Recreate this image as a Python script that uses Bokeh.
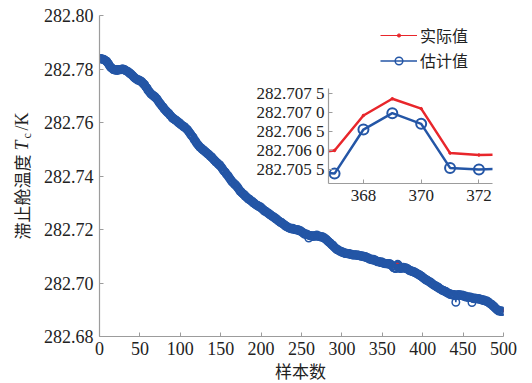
import math
from jinja2 import Template
from bokeh.plotting import figure
from bokeh.models import (Range1d, FixedTicker, PrintfTickFormatter, CustomJSTickFormatter,
                          Legend, LegendItem, Label, ColumnDataSource)
from bokeh.embed import file_html
from bokeh.resources import INLINE

# ---------------- data ----------------
sample = list(range(1, 501))

actual = [
282.7842, 282.7843, 282.7841, 282.7842, 282.7840, 282.7838, 282.7837, 282.7834, 282.7831, 282.7828,
282.7824, 282.7819, 282.7815, 282.7811, 282.7808, 282.7805, 282.7803, 282.7801, 282.7800, 282.7800,
282.7801, 282.7799, 282.7802, 282.7803, 282.7802, 282.7800, 282.7803, 282.7804, 282.7802, 282.7803,
282.7801, 282.7799, 282.7798, 282.7797, 282.7795, 282.7792, 282.7789, 282.7787, 282.7784, 282.7782,
282.7779, 282.7776, 282.7773, 282.7771, 282.7768, 282.7766, 282.7764, 282.7763, 282.7761, 282.7760,
282.7758, 282.7757, 282.7755, 282.7751, 282.7748, 282.7744, 282.7739, 282.7735, 282.7730, 282.7725,
282.7721, 282.7718, 282.7715, 282.7711, 282.7708, 282.7706, 282.7703, 282.7701, 282.7698, 282.7695,
282.7692, 282.7688, 282.7684, 282.7680, 282.7675, 282.7671, 282.7667, 282.7663, 282.7659, 282.7655,
282.7652, 282.7649, 282.7646, 282.7643, 282.7640, 282.7637, 282.7633, 282.7629, 282.7625, 282.7622,
282.7620, 282.7618, 282.7616, 282.7614, 282.7612, 282.7609, 282.7606, 282.7603, 282.7601, 282.7598,
282.7596, 282.7594, 282.7592, 282.7590, 282.7588, 282.7585, 282.7582, 282.7579, 282.7575, 282.7572,
282.7568, 282.7564, 282.7560, 282.7556, 282.7552, 282.7547, 282.7542, 282.7537, 282.7532, 282.7528,
282.7524, 282.7521, 282.7517, 282.7514, 282.7510, 282.7508, 282.7505, 282.7502, 282.7499, 282.7497,
282.7495, 282.7493, 282.7490, 282.7488, 282.7485, 282.7482, 282.7479, 282.7476, 282.7473, 282.7470,
282.7467, 282.7464, 282.7461, 282.7458, 282.7455, 282.7452, 282.7449, 282.7446, 282.7443, 282.7440,
282.7436, 282.7432, 282.7428, 282.7424, 282.7420, 282.7416, 282.7412, 282.7408, 282.7404, 282.7400,
282.7396, 282.7392, 282.7388, 282.7384, 282.7380, 282.7377, 282.7374, 282.7371, 282.7368, 282.7365,
282.7361, 282.7357, 282.7353, 282.7349, 282.7345, 282.7342, 282.7339, 282.7336, 282.7333, 282.7330,
282.7328, 282.7325, 282.7323, 282.7320, 282.7318, 282.7315, 282.7313, 282.7310, 282.7308, 282.7305,
282.7303, 282.7301, 282.7299, 282.7297, 282.7295, 282.7293, 282.7291, 282.7289, 282.7287, 282.7285,
282.7283, 282.7280, 282.7278, 282.7275, 282.7273, 282.7271, 282.7269, 282.7266, 282.7264, 282.7262,
282.7260, 282.7258, 282.7256, 282.7254, 282.7252, 282.7250, 282.7247, 282.7245, 282.7242, 282.7240,
282.7238, 282.7236, 282.7234, 282.7232, 282.7230, 282.7228, 282.7225, 282.7223, 282.7220, 282.7218,
282.7216, 282.7215, 282.7213, 282.7212, 282.7210, 282.7209, 282.7208, 282.7207, 282.7207, 282.7206,
282.7205, 282.7205, 282.7204, 282.7204, 282.7203, 282.7202, 282.7200, 282.7199, 282.7197, 282.7196,
282.7194, 282.7192, 282.7190, 282.7188, 282.7187, 282.7186, 282.7185, 282.7184, 282.7183, 282.7182,
282.7181, 282.7181, 282.7180, 282.7180, 282.7180, 282.7181, 282.7180, 282.7180, 282.7181, 282.7180,
282.7180, 282.7179, 282.7178, 282.7178, 282.7177, 282.7176, 282.7174, 282.7172, 282.7170, 282.7168,
282.7166, 282.7163, 282.7160, 282.7158, 282.7155, 282.7152, 282.7149, 282.7146, 282.7143, 282.7140,
282.7137, 282.7135, 282.7132, 282.7130, 282.7128, 282.7126, 282.7124, 282.7123, 282.7121, 282.7120,
282.7119, 282.7118, 282.7117, 282.7116, 282.7115, 282.7114, 282.7114, 282.7113, 282.7112, 282.7112,
282.7111, 282.7111, 282.7110, 282.7110, 282.7110, 282.7109, 282.7109, 282.7108, 282.7108, 282.7108,
282.7107, 282.7107, 282.7106, 282.7106, 282.7105, 282.7104, 282.7103, 282.7102, 282.7101, 282.7100,
282.7099, 282.7098, 282.7097, 282.7095, 282.7094, 282.7093, 282.7092, 282.7091, 282.7091, 282.7090,
282.7089, 282.7088, 282.7086, 282.7085, 282.7084, 282.7083, 282.7082, 282.7081, 282.7081, 282.7080,
282.7079, 282.7079, 282.7078, 282.7078, 282.7077, 282.7076, 282.7076, 282.7075, 282.7075, 282.7074,
282.7072, 282.7069, 282.7066, 282.7063, 282.70610, 282.70592, 282.70600, 282.70692, 282.70736, 282.70710,
282.70593, 282.70588, 282.70590, 282.7060, 282.7062, 282.7062, 282.7061, 282.7060, 282.7059, 282.7058,
282.7057, 282.7055, 282.7054, 282.7052, 282.7050, 282.7049, 282.7048, 282.7046, 282.7045, 282.7044,
282.7042, 282.7041, 282.7040, 282.7038, 282.7036, 282.7034, 282.7032, 282.7030, 282.7027, 282.7025,
282.7023, 282.7021, 282.7019, 282.7017, 282.7015, 282.7013, 282.7011, 282.7009, 282.7007, 282.7005,
282.7003, 282.7001, 282.6999, 282.6997, 282.6995, 282.6993, 282.6991, 282.6989, 282.6987, 282.6985,
282.6983, 282.6982, 282.6980, 282.6979, 282.6977, 282.6975, 282.6974, 282.6972, 282.6970, 282.6968,
282.6967, 282.6966, 282.6965, 282.6963, 282.6962, 282.6961, 282.6960, 282.6959, 282.6959, 282.6958,
282.6958, 282.6959, 282.6960, 282.6961, 282.6960, 282.6959, 282.6958, 282.6957, 282.6957, 282.6956,
282.6955, 282.6954, 282.6955, 282.6953, 282.6952, 282.6952, 282.6951, 282.6951, 282.6950, 282.6950,
282.6949, 282.6949, 282.6948, 282.6947, 282.6947, 282.6946, 282.6946, 282.6945, 282.6944, 282.6944,
282.6943, 282.6943, 282.6942, 282.6941, 282.6940, 282.6939, 282.6938, 282.6937, 282.6936, 282.6935,
282.6933, 282.6931, 282.6929, 282.6927, 282.6925, 282.6922, 282.6919, 282.6916, 282.6913, 282.6910,
282.6907, 282.6905, 282.6903, 282.6901, 282.6900, 282.6899, 282.6898, 282.6898, 282.6897, 282.6898,
]

estimate = [
282.7839, 282.7838, 282.7837, 282.7836, 282.7836, 282.7835, 282.7832, 282.7830, 282.7829, 282.7823,
282.7821, 282.7814, 282.7811, 282.7805, 282.7804, 282.7802, 282.7798, 282.7797, 282.7798, 282.7795,
282.7798, 282.7794, 282.7798, 282.7797, 282.7798, 282.7797, 282.7798, 282.7800, 282.7800, 282.7798,
282.7798, 282.7794, 282.7794, 282.7791, 282.7791, 282.7789, 282.7784, 282.7783, 282.7782, 282.7777,
282.7776, 282.7771, 282.7769, 282.7765, 282.7764, 282.7763, 282.7759, 282.7759, 282.7759, 282.7755,
282.7755, 282.7752, 282.7751, 282.7745, 282.7744, 282.7741, 282.7734, 282.7731, 282.7728, 282.7720,
282.7718, 282.7713, 282.7711, 282.7705, 282.7704, 282.7703, 282.7698, 282.7697, 282.7696, 282.7690,
282.7689, 282.7683, 282.7680, 282.7674, 282.7671, 282.7668, 282.7662, 282.7659, 282.7657, 282.7650,
282.7649, 282.7644, 282.7642, 282.7637, 282.7636, 282.7634, 282.7628, 282.7625, 282.7623, 282.7617,
282.7617, 282.7613, 282.7612, 282.7608, 282.7608, 282.7606, 282.7601, 282.7599, 282.7599, 282.7593,
282.7593, 282.7589, 282.7588, 282.7584, 282.7584, 282.7582, 282.7577, 282.7575, 282.7573, 282.7567,
282.7565, 282.7559, 282.7556, 282.7550, 282.7548, 282.7544, 282.7537, 282.7533, 282.7530, 282.7523,
282.7521, 282.7516, 282.7513, 282.7508, 282.7506, 282.7505, 282.7500, 282.7498, 282.7497, 282.7492,
282.7492, 282.7488, 282.7486, 282.7482, 282.7481, 282.7479, 282.7474, 282.7472, 282.7471, 282.7465,
282.7464, 282.7459, 282.7457, 282.7452, 282.7451, 282.7449, 282.7444, 282.7442, 282.7441, 282.7435,
282.7433, 282.7427, 282.7424, 282.7418, 282.7416, 282.7413, 282.7407, 282.7404, 282.7402, 282.7395,
282.7393, 282.7387, 282.7384, 282.7378, 282.7376, 282.7374, 282.7369, 282.7367, 282.7366, 282.7360,
282.7358, 282.7352, 282.7349, 282.7343, 282.7341, 282.7339, 282.7334, 282.7332, 282.7331, 282.7325,
282.7325, 282.7320, 282.7319, 282.7314, 282.7314, 282.7312, 282.7308, 282.7306, 282.7306, 282.7300,
282.7300, 282.7296, 282.7295, 282.7291, 282.7291, 282.7290, 282.7286, 282.7285, 282.7285, 282.7280,
282.7280, 282.7275, 282.7274, 282.7269, 282.7269, 282.7268, 282.7264, 282.7262, 282.7262, 282.7257,
282.7257, 282.7253, 282.7252, 282.7248, 282.7248, 282.7247, 282.7242, 282.7241, 282.7240, 282.7235,
282.7235, 282.7231, 282.7230, 282.7226, 282.7226, 282.7225, 282.7220, 282.7219, 282.7218, 282.7213,
282.7213, 282.7210, 282.7209, 282.7206, 282.7206, 282.7206, 282.7203, 282.7203, 282.7205, 282.7201,
282.7202, 282.7200, 282.7200, 282.7198, 282.7199, 282.7199, 282.7195, 282.7195, 282.7195, 282.7191,
282.7191, 282.7187, 282.7186, 282.7182, 282.7183, 282.7183, 282.7180, 282.7180, 282.7168, 282.7177,
282.7178, 282.7176, 282.7176, 282.7174, 282.7176, 282.7178, 282.7175, 282.7176, 282.7179, 282.7175,
282.7177, 282.7174, 282.7174, 282.7172, 282.7173, 282.7173, 282.7169, 282.7168, 282.7168, 282.7163,
282.7163, 282.7158, 282.7156, 282.7152, 282.7151, 282.7149, 282.7144, 282.7142, 282.7141, 282.7135,
282.7134, 282.7130, 282.7128, 282.7124, 282.7124, 282.7123, 282.7119, 282.7119, 282.7119, 282.7115,
282.7116, 282.7113, 282.7113, 282.7110, 282.7111, 282.7111, 282.7109, 282.7109, 282.7110, 282.7107,
282.7108, 282.7106, 282.7106, 282.7104, 282.7106, 282.7106, 282.7104, 282.7104, 282.7106, 282.7103,
282.7104, 282.7102, 282.7102, 282.7100, 282.7101, 282.7101, 282.7098, 282.7098, 282.7099, 282.7095,
282.7096, 282.7093, 282.7093, 282.7089, 282.7090, 282.7090, 282.7087, 282.7087, 282.7089, 282.7085,
282.7086, 282.7083, 282.7082, 282.7079, 282.7080, 282.7080, 282.7077, 282.7077, 282.7079, 282.7075,
282.7076, 282.7074, 282.7074, 282.7072, 282.7073, 282.7073, 282.7071, 282.7071, 282.7073, 282.7069,
282.7069, 282.7064, 282.7062, 282.7057, 282.70565, 282.70545, 282.70539, 282.70655, 282.70698, 282.70670,
282.70554, 282.70550, 282.70552, 282.7055, 282.7058, 282.7059, 282.7056, 282.7056, 282.7057, 282.7053,
282.7054, 282.7050, 282.7050, 282.7046, 282.7046, 282.7046, 282.7043, 282.7042, 282.7043, 282.7039,
282.7039, 282.7036, 282.7036, 282.7032, 282.7032, 282.7031, 282.7027, 282.7026, 282.7025, 282.7020,
282.7020, 282.7016, 282.7015, 282.7011, 282.7011, 282.7010, 282.7006, 282.7005, 282.7005, 282.7000,
282.7000, 282.6996, 282.6995, 282.6991, 282.6991, 282.6990, 282.6986, 282.6985, 282.6985, 282.6980,
282.6980, 282.6977, 282.6976, 282.6973, 282.6973, 282.6972, 282.6969, 282.6968, 282.6968, 282.6963,
282.6964, 282.6961, 282.6961, 282.6957, 282.6958, 282.6958, 282.6955, 282.6955, 282.6957, 282.6953,
282.6928, 282.6954, 282.6956, 282.6955, 282.6956, 282.6956, 282.6953, 282.6953, 282.6955, 282.6951,
282.6952, 282.6949, 282.6951, 282.6947, 282.6948, 282.6949, 282.6946, 282.6947, 282.6948, 282.6945,
282.6927, 282.6944, 282.6944, 282.6941, 282.6943, 282.6943, 282.6941, 282.6941, 282.6942, 282.6939,
282.6940, 282.6938, 282.6938, 282.6935, 282.6936, 282.6936, 282.6933, 282.6933, 282.6934, 282.6930,
282.6930, 282.6926, 282.6925, 282.6921, 282.6921, 282.6919, 282.6914, 282.6912, 282.6911, 282.6905,
282.6904, 282.6900, 282.6899, 282.6895, 282.6896, 282.6896, 282.6893, 282.6894, 282.6895, 282.6893,
]

series_labels = ["实际值", "估计值"]
x_ticks = [0, 50, 100, 150, 200, 250, 300, 350, 400, 450, 500]
y_ticks = [282.68, 282.70, 282.72, 282.74, 282.76, 282.78, 282.80]
inset_x_ticks = [368, 370, 372]
inset_y_ticks = [282.7055, 282.7060, 282.7065, 282.7070, 282.7075]
x_title = "样本数"
y_title_parts = ["滞止舱温度", "T", "c", "/K"]

# ---------------- style ----------------
RED = "#e8262b"
BLUE = "#2456a6"
AXIS = "#9c9c9c"
TXT = "#222222"
SERIF = "Liberation Serif"
CJK = "Noto Sans CJK SC"

src = ColumnDataSource(dict(sample=sample, actual=actual, estimate=estimate))


def style_axes(fig, size):
    fig.grid.visible = False
    fig.outline_line_color = None
    for ax in (fig.xaxis[0], fig.yaxis[0]):
        ax.axis_line_color = AXIS
        ax.axis_line_width = 1.2
        ax.major_tick_line_color = AXIS
        ax.major_tick_in = 4
        ax.major_tick_out = 0
        ax.minor_tick_line_color = None
        ax.major_label_text_font = SERIF
        ax.major_label_text_font_size = size
        ax.major_label_text_color = TXT


# ---------------- main figure ----------------
p = figure(width=532, height=383, output_backend="svg", toolbar_location=None,
           x_range=Range1d(0, 500), y_range=Range1d(282.68, 282.80),
           min_border_left=99, min_border_right=29, min_border_top=15, min_border_bottom=47,
           name="main")
style_axes(p, "18px")
p.xaxis.ticker = FixedTicker(ticks=x_ticks)
p.yaxis.ticker = FixedTicker(ticks=y_ticks)
p.yaxis.formatter = PrintfTickFormatter(format="%.2f")
p.xaxis.major_label_standoff = 5
p.yaxis.major_label_standoff = 6

r_line = p.line("sample", "actual", source=src, line_color=RED, line_width=1)
r_dot = p.scatter("sample", "actual", source=src, size=3, color=RED)
b_line = p.line("sample", "estimate", source=src, line_color=BLUE, line_width=1.5)
b_circ = p.scatter("sample", "estimate", source=src, marker="circle", size=7.5,
                   line_color=BLUE, line_width=1.5, fill_color=None)

leg_kw = dict(orientation="vertical", glyph_width=37, label_height=16,
              label_standoff=3, spacing=0, padding=0, margin=0,
              label_text_font=CJK, label_text_font_size="16px", label_text_color=TXT,
              border_line_color=None, background_fill_alpha=0)
p.add_layout(Legend(items=[LegendItem(label=series_labels[0], renderers=[r_line, r_dot])],
                    location=(281, 289), glyph_height=8, **leg_kw))
p.add_layout(Legend(items=[LegendItem(label=series_labels[1], renderers=[b_line, b_circ])],
                    location=(281, 264), glyph_height=19, **leg_kw))

# ---------------- axis titles (transparent overlay, full page frame) ----------------
ov = figure(width=532, height=383, output_backend="svg", toolbar_location=None,
            x_range=Range1d(0, 1), y_range=Range1d(0, 1),
            x_axis_location=None, y_axis_location=None, min_border=0,
            background_fill_alpha=0, border_fill_alpha=0, outline_line_color=None,
            name="labels")
ov.grid.visible = False
lab_kw = dict(x_units="screen", y_units="screen", angle=math.pi / 2,
              text_align="left", text_baseline="middle", text_color=TXT)
ov.add_layout(Label(x=21, y=144, text=y_title_parts[0], text_font=CJK,
                    text_font_size="17px", **lab_kw))
ov.add_layout(Label(x=21, y=233, text=y_title_parts[1], text_font=SERIF,
                    text_font_style="italic", text_font_size="18px", **lab_kw))
ov.add_layout(Label(x=26, y=245, text=y_title_parts[2], text_font=SERIF,
                    text_font_size="12px", **lab_kw))
ov.add_layout(Label(x=21, y=253, text=y_title_parts[3], text_font=SERIF,
                    text_font_size="18px", **lab_kw))
ov.add_layout(Label(x=300, y=13, x_units="screen", y_units="screen", text=x_title,
                    text_align="center", text_baseline="middle", text_font=CJK,
                    text_font_size="17px", text_color=TXT))

# ---------------- inset figure ----------------
ins = figure(frame_width=164, frame_height=95, output_backend="svg", toolbar_location=None,
             x_range=Range1d(366.79, 372.47), y_range=Range1d(282.70513, 282.70763),
             min_border_left=90, min_border_right=8, min_border_top=5, min_border_bottom=30,
             background_fill_alpha=0, border_fill_alpha=0, name="inset")
style_axes(ins, "17px")
ins.xaxis.ticker = FixedTicker(ticks=inset_x_ticks)
ins.yaxis.ticker = FixedTicker(ticks=inset_y_ticks)
ins.yaxis.formatter = CustomJSTickFormatter(
    code="const s = tick.toFixed(4); return s.slice(0, 7) + ' ' + s.slice(7);")
ins.xaxis.major_label_standoff = 6
ins.yaxis.major_label_standoff = 4

ins.line("sample", "actual", source=src, line_color=RED, line_width=2.5)
ins.scatter("sample", "actual", source=src, size=2.5, color=RED)
ins.line("sample", "estimate", source=src, line_color=BLUE, line_width=2.5)
ins.scatter("sample", "estimate", source=src, marker="circle", size=10,
            line_color=BLUE, line_width=2, fill_color=None)

# ---------------- page ----------------
template = Template("""{% from macros import embed %}
<!DOCTYPE html>
<html lang="zh">
<head>
<meta charset="utf-8">
<title>chart</title>
{{ bokeh_css | indent(4) if bokeh_css }}
{{ bokeh_js | indent(4) if bokeh_js }}
<style>html, body { margin: 0; padding: 0; background: #ffffff; }</style>
</head>
<body>
<div style="position: relative; width: 532px; height: 383px;">
  <div style="position: absolute; left: 0px; top: 0px;">{{ embed(roots.main) }}</div>
  <div style="position: absolute; left: 238px; top: 83px;">{{ embed(roots.inset) }}</div>
  <div style="position: absolute; left: 0px; top: 0px;">{{ embed(roots.labels) }}</div>
</div>
{{ plot_script | indent(4) }}
</body>
</html>
""")

open("out.html", "w", encoding="utf-8").write(
    file_html([p, ins, ov], INLINE, title="chart", template=template))
